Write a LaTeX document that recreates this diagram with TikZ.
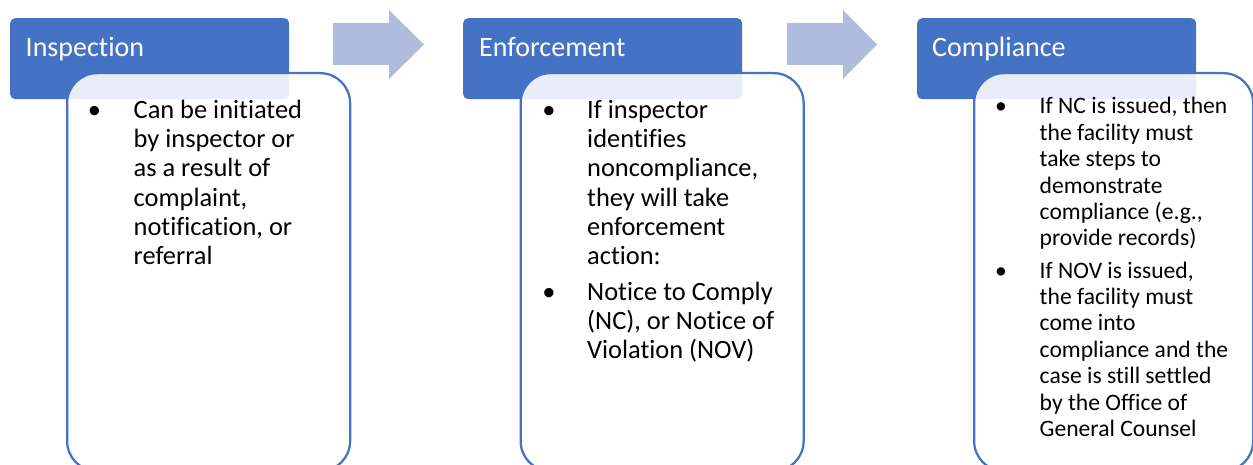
\documentclass[tikz,border=0pt]{standalone}
\usepackage{fontspec}
\setmainfont{Carlito}[Ligatures={NoCommon,NoRequired,NoContextual}]
\definecolor{accent}{HTML}{4472C4}
\definecolor{arrowfill}{RGB}{175,188,222}
\begin{document}
\begin{tikzpicture}[x=1pt,y=-1pt,
  hdr/.style={fill=accent, draw=none, rounded corners=5pt, anchor=north west, inner sep=0pt, minimum width=279pt, minimum height=81pt},
  panel/.style={draw=accent, line width=2.25pt, fill=white, fill opacity=0.88, draw opacity=1, rounded corners=30pt, anchor=north west, inner sep=0pt, minimum width=283pt, minimum height=398pt},
  hdrtext/.style={anchor=base west, inner sep=0pt, text=white, font=\fontsize{28}{34}\selectfont},
  bodytext/.style={anchor=base west, inner sep=0pt, font=\fontsize{26.4}{29.2}\selectfont},
  smalltext/.style={anchor=base west, inner sep=0pt, font=\fontsize{23.6}{26.4}\selectfont},
  bul/.style={anchor=base, inner sep=0pt, font=\fontsize{26.4}{29.2}\selectfont},
  sbul/.style={anchor=base, inner sep=0pt, font=\fontsize{23.6}{26.4}\selectfont},
  flowarrow/.style={fill=arrowfill, draw=none}
]
\clip (0,0) rectangle (1253,465);

% arrows
\fill[flowarrow] (333,23) -- (389,23) -- (389,10) -- (424,44.5) -- (389,79) -- (389,65) -- (333,65) -- cycle;
\fill[flowarrow] (787,23) -- (843,23) -- (843,10) -- (877,44.5) -- (843,79) -- (843,65) -- (787,65) -- cycle;

% headers
\node[hdr] (h1) at (10,18) {};
\node[hdr] (h2) at (463,18) {};
\node[hdr] (h3) at (917,18) {};

\node[hdrtext] (t1) at (25.5,57) {Inspection};
\node[hdrtext] (t2) at (479,57) {Enforcement};
\node[hdrtext] (t3) at (932,57) {Compliance};

% panels
\node[panel] (p1) at (66,72) {};
\node[panel] (p2) at (519.5,72) {};
\node[panel, minimum width=279pt] (p3) at (973,72) {};

% panel 1 text
\node[bul] (b11) at (94.5,118.5) {•};
\node[bodytext] (x11) at (133.5,118.5) {\parbox[t]{210pt}{\raggedright Can be initiated\\by inspector or\\as a result of\\complaint,\\notification, or\\referral}};

% panel 2 text
\node[bul] (b21) at (549,118.5) {•};
\node[bodytext] (x21) at (587,118.5) {\parbox[t]{210pt}{\raggedright If inspector\\identifies\\noncompliance,\\they will take\\enforcement\\action:}};
\node[bul] (b22) at (549,300.5) {•};
\node[bodytext] (x22) at (587,300.5) {\parbox[t]{210pt}{\raggedright Notice to Comply\\(NC), or Notice of\\Violation (NOV)}};

% panel 3 text
\node[sbul] (b31) at (1001,114) {•};
\node[smalltext] (x31) at (1039.5,114) {\parbox[t]{210pt}{\raggedright If NC is issued, then\\the facility must\\take steps to\\demonstrate\\compliance (e.g.,\\provide records)}};
\node[sbul] (b32) at (1001,278) {•};
\node[smalltext] (x32) at (1039.5,278) {\parbox[t]{210pt}{\raggedright If NOV is issued,\\the facility must\\come into\\compliance and the\\case is still settled\\by the Office of\\General Counsel}};
\end{tikzpicture}
\end{document}
